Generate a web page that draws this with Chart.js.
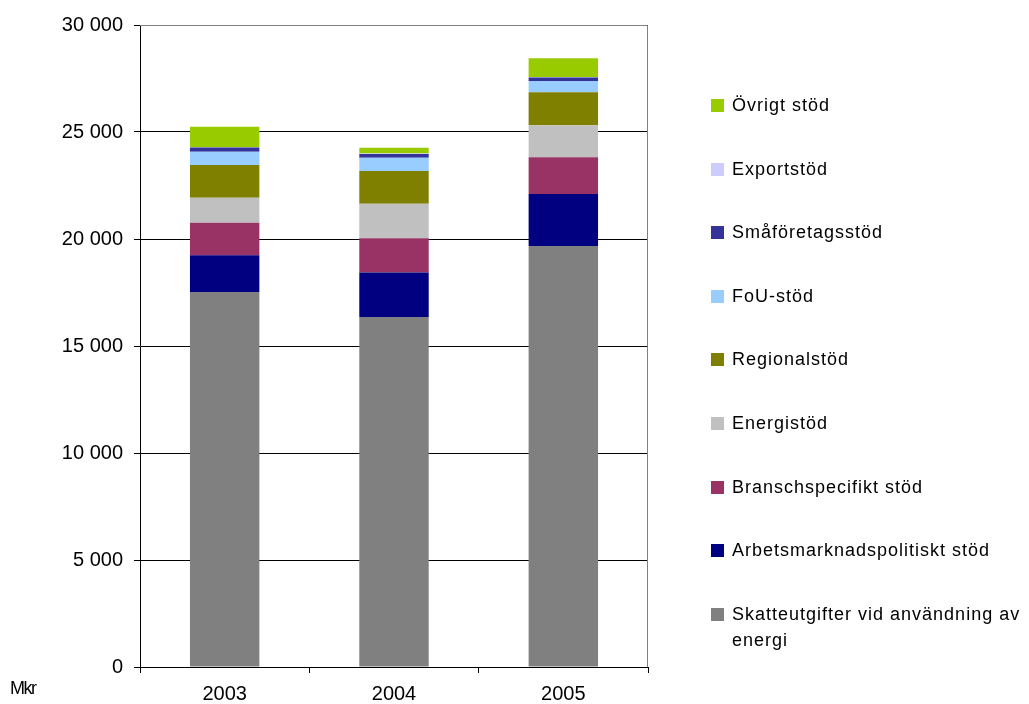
<!DOCTYPE html>
<html>
<head>
    <title>Stöd till näringslivet</title>
    <script src="https://cdn.jsdelivr.net/npm/chart.js"></script>
    <style>
        body { margin: 0; background: #fff; font-family: "Liberation Sans", Arial, sans-serif; }
        #wrap { position: relative; width: 1029px; height: 704px; }
        #chart { position: absolute; left: 0; top: 0; }
        #legend { position: absolute; left: 711px; top: 0; width: 318px; }
        .item { position: absolute; left: 0; width: 318px; font-size: 18px; letter-spacing: 1px; line-height: 26px; color: #000; }
        .item .sw { position: absolute; left: 0; top: 7px; width: 13px; height: 13px; }
        .item .tx { margin-left: 21px; display: block; }
        #unit { position: absolute; left: 10px; top: 678px; font-size: 18px; letter-spacing: -1.5px; }
    </style>
</head>
<body>
<div id="wrap">
    <canvas id="chart" width="1029" height="704"></canvas>
    <div id="legend"></div>
    <div id="unit">Mkr</div>
</div>
<script>
    // data (Mkr)
    const years = ['2003', '2004', '2005'];
    const yTicks = [0, 5000, 10000, 15000, 20000, 25000, 30000];

    const skatteutgifter = [17520, 16360, 19670];
    const arbetsmarknad = [1720, 2070, 2430];
    const bransch = [1520, 1600, 1720];
    const energi = [1170, 1620, 1490];
    const regional = [1530, 1530, 1550];
    const fou = [620, 620, 520];
    const smaforetag = [190, 170, 170];
    const exportstod = [20, 20, 20];
    const ovrigt = [950, 270, 880];

    const series = [
        { label: 'Skatteutgifter vid användning av energi', data: skatteutgifter, color: '#808080' },
        { label: 'Arbetsmarknadspolitiskt stöd', data: arbetsmarknad, color: '#000080' },
        { label: 'Branschspecifikt stöd', data: bransch, color: '#993366' },
        { label: 'Energistöd', data: energi, color: '#C0C0C0' },
        { label: 'Regionalstöd', data: regional, color: '#808000' },
        { label: 'FoU-stöd', data: fou, color: '#99CCFF' },
        { label: 'Småföretagsstöd', data: smaforetag, color: '#333399' },
        { label: 'Exportstöd', data: exportstod, color: '#CCCCFF' },
        { label: 'Övrigt stöd', data: ovrigt, color: '#99CC00' }
    ];

    function fmt(v) {
        return String(v).replace(/\B(?=(\d{3})+(?!\d))/g, ' ');
    }

    // plot border (top + right), grey like the original
    const plotBorder = {
        id: 'plotBorder',
        afterDraw(chart) {
            const a = chart.chartArea, ctx = chart.ctx;
            ctx.save();
            ctx.strokeStyle = '#808080';
            ctx.lineWidth = 1;
            ctx.beginPath();
            ctx.moveTo(a.left, a.top + 0.5);
            ctx.lineTo(a.right - 0.5, a.top + 0.5);
            ctx.lineTo(a.right - 0.5, a.bottom);
            ctx.stroke();
            ctx.restore();
        }
    };

    const ctx = document.getElementById('chart').getContext('2d');
    new Chart(ctx, {
        type: 'bar',
        data: {
            labels: years,
            datasets: series.map(s => ({
                label: s.label,
                data: s.data,
                backgroundColor: s.color,
                borderWidth: 0,
                categoryPercentage: 1,
                barPercentage: 0.41
            }))
        },
        options: {
            responsive: false,
            animation: false,
            layout: { padding: { left: 0, right: 381, top: 25, bottom: 0 } },
            plugins: { legend: { display: false }, tooltip: { enabled: false } },
            scales: {
                x: {
                    stacked: true,
                    afterFit(scale) { scale.height = 37; },
                    grid: { offset: true, drawOnChartArea: false, drawTicks: true, tickLength: 6, color: '#000' },
                    border: { color: '#000', width: 1 },
                    ticks: { color: '#000', font: { family: 'Liberation Sans', size: 20 }, padding: 9 }
                },
                y: {
                    stacked: true,
                    min: 0,
                    max: 30000,
                    afterFit(scale) { scale.width = 140; },
                    afterBuildTicks(scale) { scale.ticks = yTicks.map(v => ({ value: v })); },
                    grid: { color: '#000', lineWidth: 1, drawTicks: true, tickLength: 6, tickColor: '#000' },
                    border: { color: '#000', width: 1 },
                    ticks: {
                        color: '#000',
                        font: { family: 'Liberation Sans', size: 20 },
                        padding: 11,
                        callback: v => fmt(v)
                    }
                }
            }
        },
        plugins: [plotBorder]
    });

    // legend on the right, top entry = last series
    const legend = document.getElementById('legend');
    series.slice().reverse().forEach((s, i) => {
        const el = document.createElement('div');
        el.className = 'item';
        el.style.top = (92 + i * 63.6) + 'px';
        el.innerHTML = '<span class="sw" style="background:' + s.color + '"></span><span class="tx">' + s.label + '</span>';
        legend.appendChild(el);
    });
</script>
</body>
</html>
